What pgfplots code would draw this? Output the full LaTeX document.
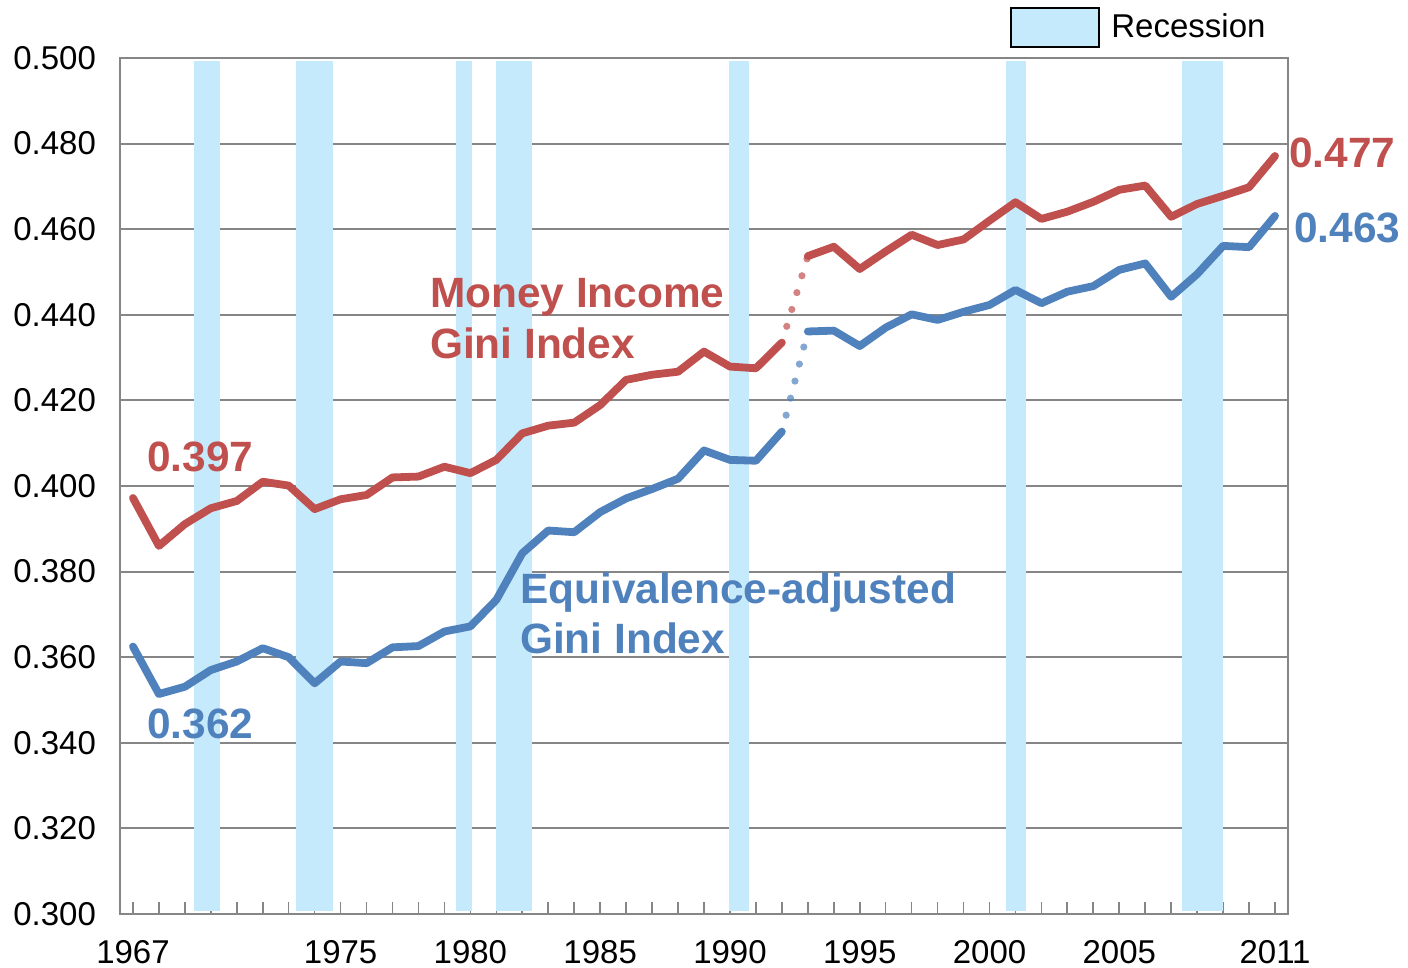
\documentclass[border=0pt]{standalone}
\usepackage{fontspec}
\setmainfont{Liberation Sans}
\usepackage{pgfplots}
\pgfplotsset{compat=1.18}
\definecolor{mired}{HTML}{C0504D}
\definecolor{miblue}{HTML}{4F81BD}
\definecolor{band}{RGB}{197,234,252}
\definecolor{axgray}{RGB}{134,134,134}
\newcommand{\tickfont}{\fontsize{16.5}{19}\selectfont}
\newcommand{\annfont}{\fontsize{21.2}{25}\selectfont\bfseries}
\begin{document}
\begin{tikzpicture}
\path[use as bounding box] (0,0) rectangle (704pt,484pt);
\begin{axis}[
  at={(60pt,27pt)}, anchor=south west,
  scale only axis, width=584pt, height=428pt,
  xmin=1966.5, xmax=2011.5, ymin=0.3, ymax=0.5,
  clip=false,
  axis line style={axgray, line width=1pt},
  xtick={1967,1975,1980,1985,1990,1995,2000,2005,2011},
  minor xtick={1967,...,2011},
  tick align=inside,
  major tick length=6pt, minor tick length=6pt,
  xtick style={axgray, line width=0.8pt},
  x tick label style={/pgf/number format/1000 sep={}, yshift=-9.5pt},
  ytick={0.3,0.32,...,0.51},
  ytick style={draw=none},
  ymajorgrids, grid style={axgray, line width=1pt},
  yticklabel style={/pgf/number format/.cd, fixed, fixed zerofill, precision=3, /tikz/.cd, xshift=-8.5pt},
  /pgf/number format/assume math mode=true,
  tick label style={font=\tickfont},
  xtick pos=bottom, ytick pos=left,
  legend style={at={(0.762,1.0357)}, anchor=west, draw=none, fill=none, inner sep=0pt, font=\tickfont},
  legend cell align=left,
  legend image code/.code={\path (0pt,0pt) -- (48pt,0pt); \draw[#1, draw=black, line width=1pt] (0pt,-9.75pt) rectangle (44pt,9.75pt);},
]
% recession bands
\addplot[fill=band, draw=none] coordinates {(1969.35,0.3006) (1969.35,0.4994) (1970.35,0.4994) (1970.35,0.3006)};
\addlegendentry{Recession}
\addplot[fill=band, draw=none, forget plot] coordinates {(1973.27,0.3006) (1973.27,0.4994) (1974.70,0.4994) (1974.70,0.3006)};
\addplot[fill=band, draw=none, forget plot] coordinates {(1979.46,0.3006) (1979.46,0.4994) (1980.05,0.4994) (1980.05,0.3006)};
\addplot[fill=band, draw=none, forget plot] coordinates {(1980.97,0.3006) (1980.97,0.4994) (1982.39,0.4994) (1982.39,0.3006)};
\addplot[fill=band, draw=none, forget plot] coordinates {(1989.98,0.3006) (1989.98,0.4994) (1990.72,0.4994) (1990.72,0.3006)};
\addplot[fill=band, draw=none, forget plot] coordinates {(2000.65,0.3006) (2000.65,0.4994) (2001.40,0.4994) (2001.40,0.3006)};
\addplot[fill=band, draw=none, forget plot] coordinates {(2007.43,0.3006) (2007.43,0.4994) (2008.99,0.4994) (2008.99,0.3006)};
% Money income Gini
\addplot[mired, line width=3.9pt, line join=round, line cap=round, forget plot] coordinates {
(1967,0.3972) (1968,0.3860) (1969,0.3911) (1970,0.3948) (1971,0.3965) (1972,0.4010)
(1973,0.4001) (1974,0.3946) (1975,0.3969) (1976,0.3979) (1977,0.4020) (1978,0.4022)
(1979,0.4045) (1980,0.4030) (1981,0.4061) (1982,0.4123) (1983,0.4141) (1984,0.4148)
(1985,0.4189) (1986,0.4248) (1987,0.4260) (1988,0.4267) (1989,0.4314) (1990,0.4279)
(1991,0.4275) (1992,0.4335)};
\addplot[mired, line width=3.9pt, line join=round, line cap=round, forget plot] coordinates {
(1993,0.4537) (1994,0.4559) (1995,0.4507) (1996,0.4548) (1997,0.4587) (1998,0.4563)
(1999,0.4576) (2000,0.4620) (2001,0.4663) (2002,0.4624) (2003,0.4641) (2004,0.4664)
(2005,0.4692) (2006,0.4702) (2007,0.4629) (2008,0.4659) (2009,0.4678) (2010,0.4698)
(2011,0.4771)};
\addplot[mired, opacity=0.7, line width=3.6pt, line cap=round, dash pattern=on 0pt off 8.8pt, dash phase=-8.5pt, forget plot] coordinates {(1992,0.4335) (1993,0.4537)};
% Equivalence-adjusted Gini
\addplot[miblue, line width=3.9pt, line join=round, line cap=round, forget plot] coordinates {
(1967,0.3625) (1968,0.3514) (1969,0.3531) (1970,0.3570) (1971,0.3590) (1972,0.3621)
(1973,0.3600) (1974,0.3539) (1975,0.3590) (1976,0.3586) (1977,0.3623) (1978,0.3626)
(1979,0.3660) (1980,0.3672) (1981,0.3734) (1982,0.3843) (1983,0.3896) (1984,0.3892)
(1985,0.3939) (1986,0.3971) (1987,0.3993) (1988,0.4017) (1989,0.4083) (1990,0.4061)
(1991,0.4059) (1992,0.4127)};
\addplot[miblue, line width=3.9pt, line join=round, line cap=round, forget plot] coordinates {
(1993,0.4361) (1994,0.4363) (1995,0.4327) (1996,0.4370) (1997,0.4401) (1998,0.4388)
(1999,0.4407) (2000,0.4423) (2001,0.4458) (2002,0.4427) (2003,0.4454) (2004,0.4467)
(2005,0.4505) (2006,0.4520) (2007,0.4442) (2008,0.4495) (2009,0.4561) (2010,0.4558)
(2011,0.4631)};
\addplot[miblue, opacity=0.7, line width=3.6pt, line cap=round, dash pattern=on 0pt off 8.8pt, dash phase=-8.5pt, forget plot] coordinates {(1992,0.4127) (1993,0.4361)};
% annotations
\node[anchor=west, inner sep=0pt, mired, font=\annfont] at (axis cs:1967.54,0.4068) {0.397};
\node[anchor=west, inner sep=0pt, miblue, font=\annfont] at (axis cs:1967.54,0.3444) {0.362};
\node[anchor=west, inner sep=0pt, mired, font=\annfont] at (axis cs:2011.53,0.4778) {0.477};
\node[anchor=west, inner sep=0pt, miblue, font=\annfont] at (axis cs:2011.73,0.4603) {0.463};
\node[anchor=base west, inner sep=0pt, mired, font=\annfont] at (axis cs:1978.43,0.4416) {Money Income};
\node[anchor=base west, inner sep=0pt, mired, font=\annfont] at (axis cs:1978.43,0.4299) {Gini Index};
\node[anchor=base west, inner sep=0pt, miblue, font=\annfont] at (axis cs:1981.9,0.3725) {Equivalence-adjusted};
\node[anchor=base west, inner sep=0pt, miblue, font=\annfont] at (axis cs:1981.9,0.3608) {Gini Index};
\end{axis}
\end{tikzpicture}
\end{document}
